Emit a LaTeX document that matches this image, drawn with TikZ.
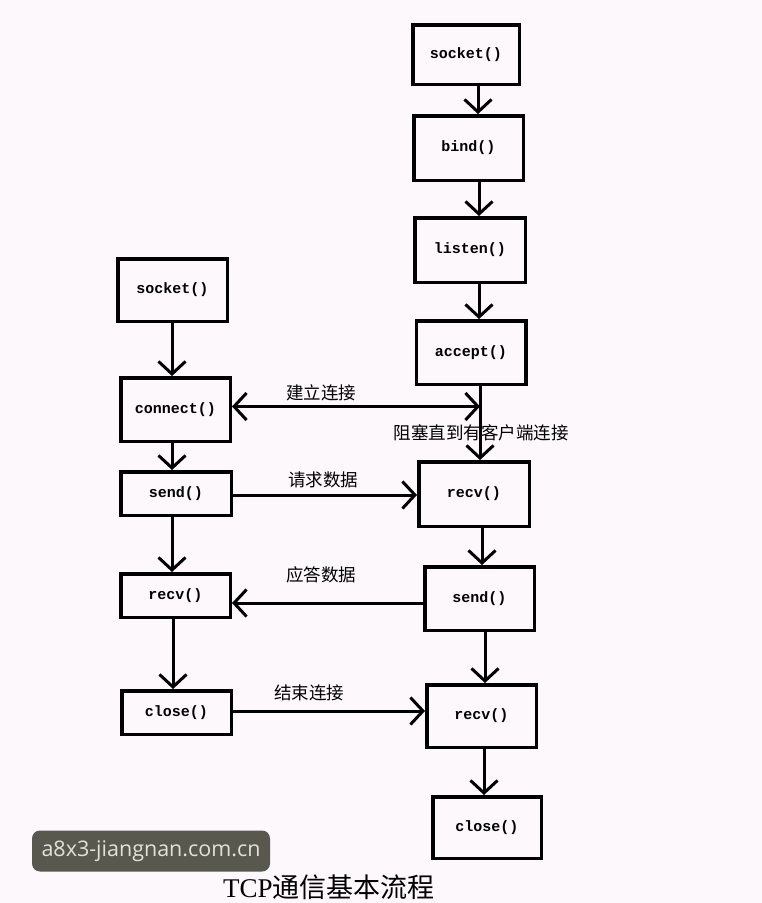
\documentclass[tikz,border=0pt]{standalone}
\usepackage{fontspec}
\setmainfont{Liberation Serif}
\newfontfamily\cjk{Noto Sans CJK SC}
\newfontfamily\codefont{Liberation Mono}
\newfontfamily\wmfont{Open Sans}
\usetikzlibrary{arrows.meta}
\definecolor{bg}{RGB}{252,248,252}
\definecolor{wmbg}{RGB}{88,88,78}
\definecolor{wmtext}{RGB}{226,226,216}
\tikzset{barb/.tip={Straight Barb[length=12.5pt,width=27pt]}}
\begin{document}
\begin{tikzpicture}[x=1pt,y=-1pt,
  box/.style={draw,line width=3.5pt,inner sep=0pt,font=\codefont\bfseries\fontsize{15}{18}\selectfont},
  conn/.style={line width=3pt,-barb},
  lab/.style={font=\cjk\fontsize{17.5}{20}\selectfont,inner sep=0pt}]
\fill[bg] (0,0) rectangle (762,903);
\useasboundingbox (0,0) rectangle (762,903);
% server column
\node[box,minimum width=106.5pt,minimum height=59.5pt] (ssock) at (466,54.5) {socket()};
\node[box,minimum width=109.5pt,minimum height=64.5pt] (sbind) at (468.5,148) {bind()};
\node[box,minimum width=110.5pt,minimum height=64.5pt] (slisten) at (470,250) {listen()};
\node[box,minimum width=109.5pt,minimum height=63.5pt] (saccept) at (471,352.5) {accept()};
\node[box,minimum width=110.5pt,minimum height=64.5pt] (srecv1) at (474,494) {recv()};
\node[box,minimum width=109.5pt,minimum height=63.5pt] (ssend) at (479.5,598.5) {send()};
\node[box,minimum width=109.5pt,minimum height=62.5pt] (srecv2) at (481.5,716) {recv()};
\node[box,minimum width=108.5pt,minimum height=61.5pt] (sclose) at (487,827.5) {close()};
% client column
\node[box,minimum width=109.5pt,minimum height=62.5pt] (csock) at (172.5,290) {socket()};
\node[box,minimum width=109.5pt,minimum height=63.5pt] (cconn) at (175.5,409.5) {connect()};
\node[box,minimum width=110.5pt,minimum height=43.5pt] (csend) at (176,493.5) {send()};
\node[box,minimum width=109.5pt,minimum height=43.5pt] (crecv) at (175.5,595.5) {recv()};
\node[box,minimum width=109.5pt,minimum height=43.5pt] (cclose) at (176.5,712.5) {close()};
% server arrows
\draw[conn] (ssock.south -| 478,0) -- (sbind.north -| 478,0);
\draw[conn] (sbind.south -| 479,0) -- (slisten.north -| 479,0);
\draw[conn] (slisten.south -| 479,0) -- (saccept.north -| 479,0);
\coordinate (j) at (480,406.5);
\draw[conn] (saccept.south -| j) -- (srecv1.north -| j);
\draw[conn] (srecv1.south -| 482,0) -- (ssend.north -| 482,0);
\draw[conn] (ssend.south -| 485,0) -- (srecv2.north -| 485,0);
\draw[conn] (srecv2.south -| 484,0) -- (sclose.north -| 484,0);
% client arrows
\draw[conn] (csock.south -| 172,0) -- (cconn.north -| 172,0);
\draw[conn] (cconn.south -| 172,0) -- (csend.north -| 172,0);
\draw[conn] (csend.south -| 172,0) -- (crecv.north -| 172,0);
\draw[conn] (crecv.south -| 173,0) -- (cclose.north -| 173,0);
% horizontal arrows
\draw[line width=3pt,barb-barb] (cconn.east |- j) -- (j);
\draw[conn] (csend.east |- 0,495) -- (srecv1.west |- 0,495);
\draw[conn] (ssend.west |- 0,603) -- (crecv.east |- 0,603);
\draw[conn] (cclose.east |- 0,711) -- (srecv2.west |- 0,711);
% labels
\node[lab] (l1) at (321,393) {建立连接};
\node[lab] (l2) at (481,433) {阻塞直到有客户端连接};
\node[lab] (l3) at (323,480) {请求数据};
\node[lab] (l4) at (321,575) {应答数据};
\node[lab] (l5) at (309,693) {结束连接};
% title
\node[inner sep=0pt] (title) at (329,887) {\fontsize{27}{30}\selectfont TCP{\cjk 通信基本流程}};
% watermark
\node[fill=wmbg,rounded corners=8pt,minimum width=238pt,minimum height=41pt,inner sep=0pt,
  text=wmtext,font=\wmfont\fontsize{21.5}{25}\selectfont] (wm) at (151,851) {a8x3-jiangnan.com.cn};
\end{tikzpicture}
\end{document}
